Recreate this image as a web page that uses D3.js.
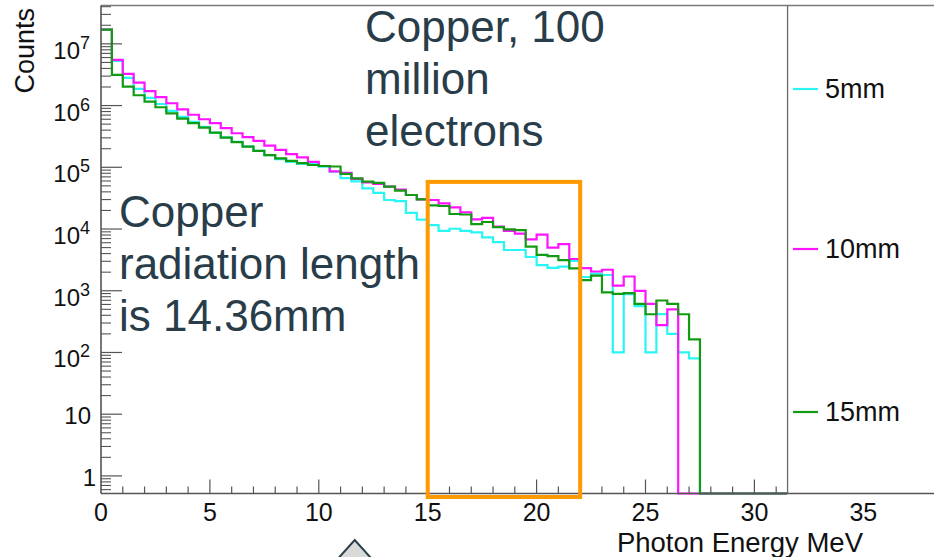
<!DOCTYPE html>
<html><head><meta charset="utf-8">
<script src="https://cdn.jsdelivr.net/npm/d3@7"></script>
<style>
html,body{margin:0;padding:0;background:#fff;}
svg{display:block;font-family:"Liberation Sans",Arial,Helvetica,sans-serif;}
</style></head>
<body>
<svg id="c" width="934" height="557"></svg>
<script>
// ---- data ----
const binWidth = 0.5;           // MeV
const nBins = 63;               // 0 .. 31.5 MeV
const seriesNames = ["5mm", "10mm", "15mm"];
const seriesColors = ["#2af5f5", "#ff14ff", "#139a13"];
// counts per 0.5 MeV bin (bins beyond the listed ones are empty)
const counts5mm = [1.7e7, 5.3e6, 2.81e6, 1.86e6, 1.33e6, 1.06e6, 8.2e5, 6.55e5, 5.43e5, 4.5e5,
  3.6e5, 3.05e5, 2.58e5, 2.18e5, 1.84e5, 1.58e5, 1.36e5, 1.22e5, 1.13e5, 1.13e5,
  1.02e5, 8.5e4, 6.7e4, 5.9e4, 4.54e4, 3.84e4, 2.95e4, 2.84e4, 1.82e4, 1.42e4,
  1.16e4, 9.3e3, 1.01e4, 9.35e3, 8.8e3, 7.3e3, 6.15e3, 4.57e3, 4.57e3, 3.52e3,
  2.61e3, 2.35e3, 2.45e3, 3.05e3, 1.67e3, 1.9e3, 1.8e3, 100, 883, 565,
  100, 419, 200, 100, 80];
const counts10mm = [1.7e7, 5.5e6, 3.27e6, 2.36e6, 1.71e6, 1.37e6, 1.09e6, 8.7e5, 7.1e5, 6.0e5,
  5.2e5, 4.3e5, 3.56e5, 3.07e5, 2.67e5, 2.24e5, 1.91e5, 1.64e5, 1.45e5, 1.22e5,
  1.05e5, 8.6e4, 8.1e4, 6.5e4, 5.7e4, 5.4e4, 4.85e4, 4.35e4, 3.56e4, 3.03e4,
  2.95e4, 2.61e4, 2.25e4, 1.87e4, 1.43e4, 1.51e4, 1.09e4, 9.35e3, 8.45e3, 6.8e3,
  8.1e3, 5.0e3, 5.7e3, 3.27e3, 2.33e3, 2.05e3, 2.19e3, 1.21e3, 1.70e3, 995,
  615, 278, 499];
const counts15mm = [1.7e7, 3.14e6, 2.03e6, 1.47e6, 1.16e6, 9.4e5, 7.5e5, 6.15e5, 5.2e5, 4.4e5,
  3.65e5, 3.03e5, 2.55e5, 2.16e5, 1.84e5, 1.58e5, 1.39e5, 1.27e5, 1.17e5, 1.09e5,
  1.05e5, 1.03e5, 7.8e4, 6.6e4, 5.85e4, 5.6e4, 4.85e4, 4.2e4, 3.56e4, 3.03e4,
  2.42e4, 2.36e4, 1.75e4, 1.72e4, 1.2e4, 1.3e4, 1.07e4, 9.9e3, 9.6e3, 5.2e3,
  3.8e3, 3.65e3, 3.14e3, 2.3e3, 1.49e3, 1.76e3, 944, 893, 916, 615,
  416, 695, 615, 416, 163];
const allCounts = [counts5mm, counts10mm, counts15mm];
const xTickLabels = [0, 5, 10, 15, 20, 25, 30, 35];
const yDecades = [0, 1, 2, 3, 4, 5, 6, 7];
const xDomain = [0, 38.2];
const yDomain = [0.519, 4.18e7];
const highlight = [15, 22];     // MeV range of the orange box
const highlightTop = 5.8e4;     // counts level of orange box top
const textTop = ["Copper, 100", "million", "electrons"];
const textMid = ["Copper", "radiation length", "is 14.36mm"];

// ---- layout ----
const svg = d3.select("#c");
const L = 101, R = 934, T = 5.5, B = 493.5;
const x = d3.scaleLinear().domain(xDomain).range([L, L + 21.78 * (xDomain[1] - xDomain[0])]);
const y = d3.scaleLog().domain(yDomain).range([B, T]).clamp(true);
const histEnd = nBins * binWidth;

// frame lines
svg.append("line").attr("x1", L).attr("x2", R).attr("y1", T).attr("y2", T)
  .attr("stroke", "#7a7a7a").attr("stroke-width", 1.5);
svg.append("line").attr("x1", x(histEnd) + 0.5).attr("x2", x(histEnd) + 0.5).attr("y1", T).attr("y2", B)
  .attr("stroke", "#6a6a6a").attr("stroke-width", 1.3);

// histograms
const line = d3.line().curve(d3.curveStepAfter);
allCounts.forEach((arr, k) => {
  const pts = [];
  for (let i = 0; i < nBins; i++) {
    const v = arr[i] || 0;
    pts.push([x(i * binWidth), v > 0 ? y(v) : B]);
  }
  const lastV = arr[nBins - 1] || 0;
  pts.push([x(histEnd), lastV > 0 ? y(lastV) : B]);
  svg.append("path").attr("d", line(pts)).attr("fill", "none")
    .attr("stroke", seriesColors[k]).attr("stroke-width", 2.2);
});

// axes lines
svg.append("line").attr("x1", L).attr("x2", L).attr("y1", T).attr("y2", B)
  .attr("stroke", "#555").attr("stroke-width", 1.6);
svg.append("line").attr("x1", L).attr("x2", R).attr("y1", B).attr("y2", B)
  .attr("stroke", "#555").attr("stroke-width", 1.6);

// x ticks (every 1 MeV up to histogram end)
for (let t = 1; t <= Math.floor(histEnd); t++) {
  const major = t % 5 === 0;
  svg.append("line").attr("x1", x(t)).attr("x2", x(t)).attr("y1", B).attr("y2", B - (major ? 14 : 7))
    .attr("stroke", "#555").attr("stroke-width", 1.2);
}
xTickLabels.forEach(t => {
  svg.append("text").attr("x", x(t)).attr("y", 520.5).attr("text-anchor", "middle")
    .attr("font-size", 25).attr("fill", "#111").text(t);
});
svg.append("text").attr("x", 863).attr("y", 552).attr("text-anchor", "end")
  .attr("font-size", 27.5).attr("fill", "#111").text("Photon Energy MeV");

// y ticks
const yMinorVals = [];
for (let d = -1; d <= 7; d++) for (let m = 2; m <= 9; m++) {
  const v = m * Math.pow(10, d);
  if (v > yDomain[0] && v < yDomain[1]) yMinorVals.push(v);
}
yMinorVals.forEach(v => {
  svg.append("line").attr("x1", L).attr("x2", L + 10).attr("y1", y(v)).attr("y2", y(v))
    .attr("stroke", "#555").attr("stroke-width", 1.1);
});
yDecades.forEach(d => {
  const yy = y(Math.pow(10, d));
  svg.append("line").attr("x1", L).attr("x2", L + 21).attr("y1", yy).attr("y2", yy)
    .attr("stroke", "#555").attr("stroke-width", 1.2);
  if (d === 0) {
    svg.append("text").attr("x", 96).attr("y", yy + 10).attr("text-anchor", "end")
      .attr("font-size", 24).attr("fill", "#111").text("1");
  } else if (d === 1) {
    svg.append("text").attr("x", 91).attr("y", yy + 10).attr("text-anchor", "end")
      .attr("font-size", 24).attr("fill", "#111").text("10");
  } else {
    const t = svg.append("text").attr("x", 90).attr("y", yy + 15).attr("text-anchor", "end")
      .attr("font-size", 24).attr("fill", "#111");
    t.append("tspan").text("10");
    t.append("tspan").attr("dy", -10).attr("font-size", 18).text(d);
  }
});
svg.append("text").attr("transform", "translate(34,8) rotate(-90)").attr("text-anchor", "end")
  .attr("font-size", 27).attr("fill", "#111").text("Counts");

// legend
const legY = [89, 249, 412];
seriesNames.forEach((n, k) => {
  svg.append("line").attr("x1", 793).attr("x2", 818).attr("y1", legY[k]).attr("y2", legY[k])
    .attr("stroke", seriesColors[k]).attr("stroke-width", 2.2);
  svg.append("text").attr("x", 825).attr("y", legY[k] + 9).attr("font-size", 27)
    .attr("fill", "#111").text(n);
});

// orange highlight box
svg.append("rect").attr("x", x(highlight[0])).attr("y", y(highlightTop))
  .attr("width", x(highlight[1]) - x(highlight[0])).attr("height", B + 3.5 - y(highlightTop))
  .attr("fill", "none").attr("stroke", "#ff9900").attr("stroke-width", 4);

// annotation texts
const annoColor = "#283d49";
textTop.forEach((s, i) => {
  svg.append("text").attr("x", 365).attr("y", 42 + 52 * i).attr("font-size", 44)
    .attr("fill", annoColor).text(s);
});
textMid.forEach((s, i) => {
  svg.append("text").attr("x", 119).attr("y", 227 + 52 * i).attr("font-size", 44)
    .attr("fill", annoColor).text(s);
});

// arrow shape at bottom
const ax = x(11.65);
svg.append("path").attr("d", `M${ax - 18},${560} L${ax},${540} L${ax + 18},${560}`)
  .attr("fill", "#d9d9d9").attr("stroke", "#2b3f4b").attr("stroke-width", 2);
</script>
</body></html>
